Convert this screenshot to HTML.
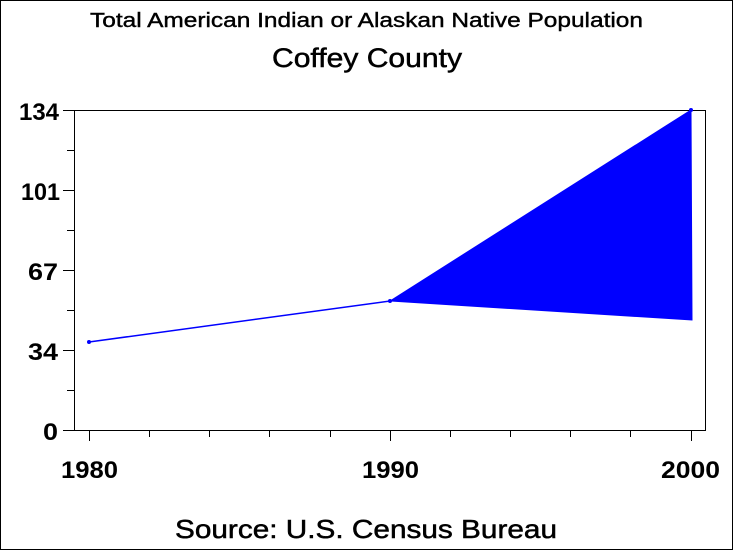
<!DOCTYPE html>
<html><head><style>
html,body{margin:0;padding:0;background:#fff;}
svg{display:block;}
text{font-family:"Liberation Sans",Arial,sans-serif;fill:#000;}
</style></head><body>
<svg width="733" height="550" viewBox="0 0 733 550" xmlns="http://www.w3.org/2000/svg">
<rect x="0.5" y="0.5" width="732" height="549" fill="#fff" stroke="#000"/>
<text x="90" y="27" font-size="20" stroke="#000" stroke-width="0.4" textLength="553" lengthAdjust="spacingAndGlyphs">Total American Indian or Alaskan Native Population</text>
<text x="272" y="67" font-size="27" stroke="#000" stroke-width="0.5" textLength="190" lengthAdjust="spacingAndGlyphs">Coffey County</text>
<rect x="74.5" y="110.5" width="631" height="320" fill="none" stroke="#000"/>
<g stroke="#000" stroke-width="1">
<line x1="63" y1="110.5" x2="74" y2="110.5"/>
<line x1="63" y1="190.5" x2="74" y2="190.5"/>
<line x1="63" y1="270.5" x2="74" y2="270.5"/>
<line x1="63" y1="350.5" x2="74" y2="350.5"/>
<line x1="63" y1="430.5" x2="74" y2="430.5"/>
<line x1="67" y1="150.5" x2="74" y2="150.5"/>
<line x1="67" y1="230.5" x2="74" y2="230.5"/>
<line x1="67" y1="310.5" x2="74" y2="310.5"/>
<line x1="67" y1="390.5" x2="74" y2="390.5"/>
<line x1="89.5" y1="430" x2="89.5" y2="441"/>
<line x1="390.5" y1="430" x2="390.5" y2="441"/>
<line x1="691.5" y1="430" x2="691.5" y2="441"/>
<line x1="149.5" y1="430" x2="149.5" y2="437"/>
<line x1="209.5" y1="430" x2="209.5" y2="437"/>
<line x1="269.5" y1="430" x2="269.5" y2="437"/>
<line x1="330.5" y1="430" x2="330.5" y2="437"/>
<line x1="450.5" y1="430" x2="450.5" y2="437"/>
<line x1="510.5" y1="430" x2="510.5" y2="437"/>
<line x1="570.5" y1="430" x2="570.5" y2="437"/>
<line x1="630.5" y1="430" x2="630.5" y2="437"/>
</g>
<g font-size="24" font-weight="bold">
<text x="19" y="120" textLength="40" lengthAdjust="spacingAndGlyphs">134</text>
<text x="21" y="200" textLength="39" lengthAdjust="spacingAndGlyphs">101</text>
<text x="28" y="280" textLength="30" lengthAdjust="spacingAndGlyphs">67</text>
<text x="28" y="360" textLength="30" lengthAdjust="spacingAndGlyphs">34</text>
<text x="43" y="440" textLength="15" lengthAdjust="spacingAndGlyphs">0</text>
<text x="61" y="478" textLength="57" lengthAdjust="spacingAndGlyphs">1980</text>
<text x="362" y="478" textLength="57" lengthAdjust="spacingAndGlyphs">1990</text>
<text x="661" y="478" textLength="59" lengthAdjust="spacingAndGlyphs">2000</text>
</g>
<polygon points="390,301 691,110 692,320" fill="#0000ff" stroke="#0000ff"/>
<line x1="89" y1="342" x2="390" y2="301" stroke="#0000ff" stroke-width="1.5"/>
<circle cx="89" cy="342" r="2" fill="#0000ff"/>
<circle cx="390" cy="301" r="2" fill="#0000ff"/>
<circle cx="691" cy="110" r="2" fill="#0000ff"/>
<text x="175" y="538" font-size="26" stroke="#000" stroke-width="0.5" textLength="382" lengthAdjust="spacingAndGlyphs">Source: U.S. Census Bureau</text>
</svg>
</body></html>
